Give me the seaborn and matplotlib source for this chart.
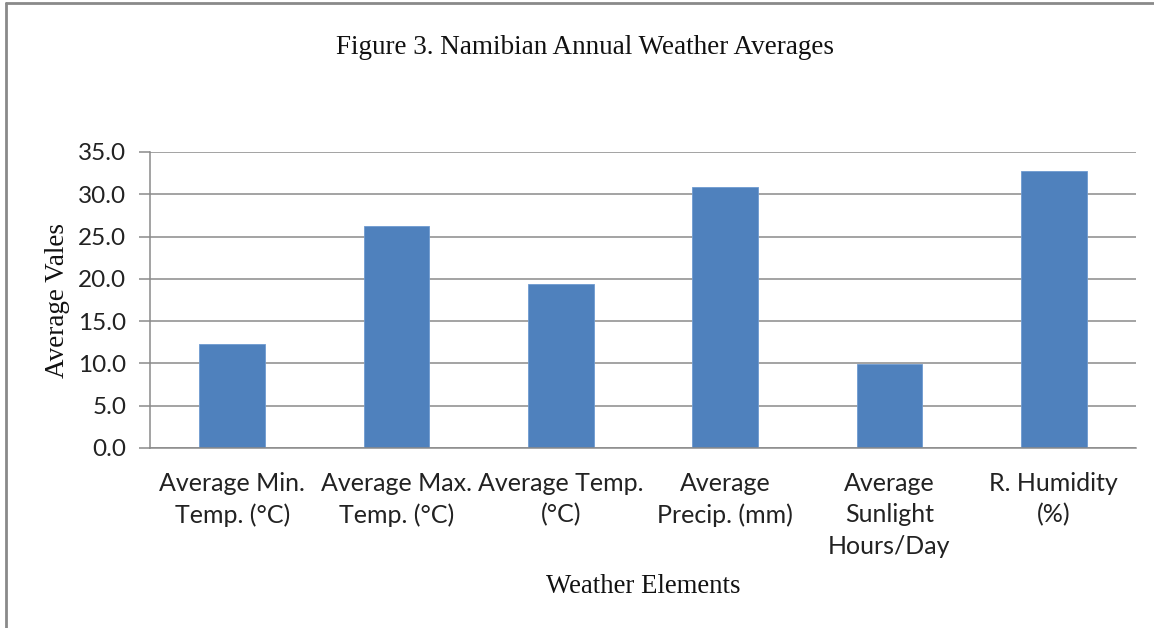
import matplotlib
matplotlib.use("Agg")
import matplotlib.pyplot as plt
import seaborn as sns
import pandas as pd
from matplotlib.lines import Line2D

categories = ["Average Min.\nTemp. (°C)", "Average Max.\nTemp. (°C)", "Average Temp.\n(°C)",
              "Average\nPrecip. (mm)", "Average\nSunlight\nHours/Day", "R. Humidity\n(%)"]
values = [12.3, 26.3, 19.4, 30.9, 9.9, 32.7]
yticks = [0, 5, 10, 15, 20, 25, 30, 35]
title = "Figure 3. Namibian Annual Weather Averages"
xlabel = "Weather Elements"
ylabel = "Average Vales"

sns.set_theme(style="white")
plt.rcParams['font.family'] = ['Lato', 'DejaVu Sans']

df = pd.DataFrame({"cat": categories, "val": values})

fig = plt.figure(figsize=(11.54, 6.28), dpi=100)
ax = fig.add_axes([150/1154, 1-448/628, (1136-150)/1154, (448-152)/628])

sns.barplot(data=df, x="cat", y="val", color="#4F81BD", saturation=1, width=0.4, ax=ax,
            edgecolor="#6f9bd0", linewidth=0.6)

ax.set_ylim(0, 35)
ax.set_xlim(-0.5, len(categories) - 0.5)
ax.set_yticks(yticks)
ax.set_yticklabels([f"{v:.1f}" for v in yticks], fontsize=17.5, color="#222222")
ax.yaxis.grid(True, color="#8a8a8a", linewidth=1.1)
ax.set_axisbelow(True)

ax.set_xticks(range(len(categories)))
ax.set_xticklabels(categories, fontsize=18, color="#222222", linespacing=1.45)
ax.set_xticks([i - 0.5 for i in range(len(categories) + 1)], minor=True)
ax.tick_params(axis="x", which="major", length=0, pad=17)
ax.tick_params(axis="x", which="minor", length=8, color="#8a8a8a", width=1.1, direction="out")
ax.tick_params(axis="y", which="major", length=8, color="#8a8a8a", width=1.1, direction="out", pad=9, left=True)

for s in ["top", "right"]:
    ax.spines[s].set_visible(False)
for s in ["left", "bottom"]:
    ax.spines[s].set_color("#8a8a8a")
    ax.spines[s].set_linewidth(1.1)

ax.set_xlabel(xlabel, family="Liberation Serif", fontsize=19.3, color="#111111", labelpad=12)
ax.set_ylabel(ylabel, family="Liberation Serif", fontsize=19.5, color="#111111", labelpad=6)
fig.text(0.5065, 1 - 48/628, title, family="Liberation Serif", fontsize=19.5, color="#111111",
         ha="center", va="center")

fig.add_artist(Line2D([6/1154, 6/1154], [0, 1 - 3/628], transform=fig.transFigure, color="#8a8a8a", linewidth=2))
fig.add_artist(Line2D([6/1154, 1], [1 - 3/628, 1 - 3/628], transform=fig.transFigure, color="#8a8a8a", linewidth=2))

fig.savefig("out.png", dpi=100)
